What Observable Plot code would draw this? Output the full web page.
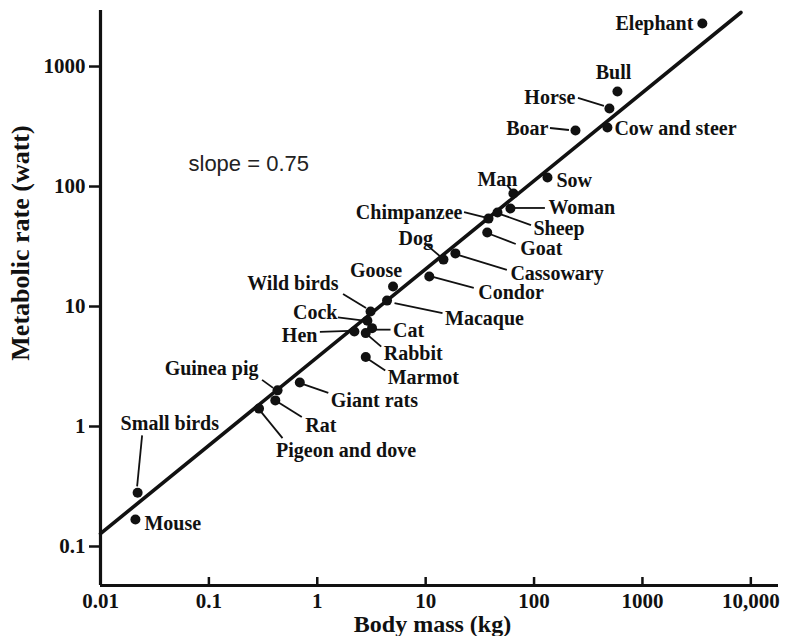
<!DOCTYPE html>
<html>
<head>
<meta charset="utf-8">
<script src="https://cdn.jsdelivr.net/npm/d3@7"></script>
<script src="https://cdn.jsdelivr.net/npm/@observablehq/plot@0.6"></script>
<style>
  html, body { margin: 0; padding: 0; background: #fff; }
  #chart svg { display: block; }
</style>
</head>
<body>
<div id="chart"></div>
<script>
// ---- data ----
const names = ["Mouse","Small birds","Pigeon and dove","Rat","Guinea pig","Giant rats","Hen","Cock","Wild birds","Cat","Rabbit","Marmot","Macaque","Goose","Condor","Dog","Cassowary","Goat","Chimpanzee","Sheep","Woman","Man","Sow","Boar","Cow and steer","Horse","Bull","Elephant"];
const massKg = [0.021,0.022,0.29,0.41,0.43,0.69,2.2,2.9,3.1,3.2,2.8,2.8,4.4,5.0,10.8,14.6,18.8,37,38,46,60.5,64.5,133,241,475,496,588,3570];
const rateW = [0.168,0.28,1.41,1.65,2.0,2.33,6.2,7.6,9.1,6.6,6.0,3.8,11.2,14.7,17.8,24.6,27.7,41.4,54,60.7,65.6,87.5,119,293,310,447,619,2282];

const fitMass = [0.01, 8100];
const fitRate = [0.128, 2820];

const xTicks = [0.01, 0.1, 1, 10, 100, 1000, 10000];
const xTickLabels = ["0.01","0.1","1","10","100","1000","10,000"];
const yTicks = [0.1, 1, 10, 100, 1000];
const yTickLabels = ["0.1","1","10","100","1000"];

// ---- label layout (pixel offsets from each dot) ----
const layout = {
  "Elephant":      {dx:-9,  dy:0,   a:"end"},
  "Bull":          {dx:-4,  dy:-19, a:"middle"},
  "Horse":         {dx:-34, dy:-11, a:"end",   l:[-5,-2,-31,-10]},
  "Cow and steer": {dx:7,   dy:1,   a:"start"},
  "Boar":          {dx:-27, dy:-2,  a:"end",   l:[-6,0,-25,-2]},
  "Sow":           {dx:9,   dy:3,   a:"start"},
  "Man":           {dx:-16, dy:-14, a:"middle",l:[-1,-2,-6,-8]},
  "Woman":         {dx:38,  dy:-1,  a:"start", l:[5,0,35,0]},
  "Chimpanzee":    {dx:-26, dy:-6,  a:"end",   l:[-4,-1,-24,-6]},
  "Sheep":         {dx:36,  dy:16,  a:"start", l:[3,2,34,13]},
  "Goat":          {dx:33,  dy:16,  a:"start", l:[3,2,29,12]},
  "Dog":           {dx:-45, dy:-21, a:"start", l:[-16,-14,-2,-2]},
  "Cassowary":     {dx:55,  dy:20,  a:"start", l:[3,2,52,17]},
  "Condor":        {dx:49,  dy:16,  a:"start", l:[4,1,45,12]},
  "Goose":         {dx:-17, dy:-16, a:"middle"},
  "Wild birds":    {dx:-32, dy:-28, a:"end",   l:[-27,-17,-4,-3]},
  "Cock":          {dx:-30, dy:-8,  a:"end",   l:[-29,-3,-5,0]},
  "Hen":           {dx:-37, dy:4,   a:"end",   l:[-34,1,-4,0]},
  "Cat":           {dx:21,  dy:2,   a:"start", l:[3,2,19,2]},
  "Rabbit":        {dx:18,  dy:20,  a:"start", l:[2,2,16,14]},
  "Marmot":        {dx:22,  dy:21,  a:"start", l:[2,2,20,14]},
  "Macaque":       {dx:58,  dy:18,  a:"start", l:[8,3,56,13]},
  "Giant rats":    {dx:31,  dy:18,  a:"start", l:[3,2,29,11]},
  "Guinea pig":    {dx:-19, dy:-22, a:"end",   l:[-4,-2,-15,-10]},
  "Rat":           {dx:30,  dy:25,  a:"start", l:[3,2,27,17]},
  "Pigeon and dove":{dx:17, dy:42,  a:"start", l:[2,3,24,30]},
  "Small birds":   {dx:-17, dy:-69, a:"start", l:[0,-6,5,-57]},
  "Mouse":         {dx:9,   dy:4,   a:"start"}
};

const animals = names.map((n, i) => ({name: n, mass: massKg[i], rate: rateW[i]}));
const fit = fitMass.map((m, i) => ({mass: m, rate: fitRate[i]}));
const xLabelOf = new Map(xTicks.map((t, i) => [t, xTickLabels[i]]));
const yLabelOf = new Map(yTicks.map((t, i) => [t, yTickLabels[i]]));

const xDomain = [0.01, 18000];
const yDomain = [0.0473, 2930];
const serif = "'Liberation Serif', 'Times New Roman', serif";

function leaders(index, scales) {
  const g = d3.create("svg:g").attr("stroke", "#111").attr("stroke-width", 1.8).attr("fill", "none");
  for (const d of animals) {
    const L = layout[d.name];
    if (!L || !L.l) continue;
    const px = scales.x(d.mass), py = scales.y(d.rate);
    g.append("line")
      .attr("x1", px + L.l[0]).attr("y1", py + L.l[1])
      .attr("x2", px + L.l[2]).attr("y2", py + L.l[3]);
  }
  return g.node();
}

const labelMarks = animals.map(d => {
  const L = layout[d.name];
  return Plot.text([d], {
    x: "mass", y: "rate", text: "name",
    dx: L.dx, dy: L.dy, textAnchor: L.a,
    fontSize: 20, fontWeight: "bold", fill: "#111", fontFamily: serif
  });
});

const chart = Plot.plot({
  width: 785,
  height: 636,
  marginLeft: 100,
  marginRight: 7,
  marginTop: 10,
  marginBottom: 51,
  style: {fontFamily: serif, background: "#fff", color: "#111"},
  x: {type: "log", domain: xDomain},
  y: {type: "log", domain: yDomain},
  marks: [
    // axis tick marks
    Plot.axisX(xTicks, {anchor: "bottom", tickSize: 8, dy: -8, text: null, strokeWidth: 2.5, label: null}),
    Plot.axisX(xTicks, {anchor: "bottom", tickSize: 0, tickPadding: 8, tickFormat: d => xLabelOf.get(d), fontSize: 21, fontWeight: "bold", label: null}),
    Plot.axisY(yTicks, {anchor: "left", tickSize: 11, tickPadding: 4, tickFormat: d => yLabelOf.get(d), fontSize: 21, fontWeight: "bold", strokeWidth: 2.5, label: null}),
    Plot.ruleX([xDomain[0]], {strokeWidth: 3.2, stroke: "#111"}),
    Plot.ruleY([yDomain[0]], {strokeWidth: 3.2, stroke: "#111"}),
    Plot.line(fit, {x: "mass", y: "rate", stroke: "#111", strokeWidth: 3.6}),
    leaders,
    Plot.dot(animals, {x: "mass", y: "rate", r: 5, fill: "#111"}),
    ...labelMarks,
    Plot.text(["slope = 0.75"], {frameAnchor: "top-left", dx: 88, dy: 153, textAnchor: "start", lineAnchor: "middle", fontSize: 22, fontFamily: "'Liberation Sans', Arial, sans-serif", fill: "#222"}),
    Plot.text(["Body mass (kg)"], {frameAnchor: "bottom", dx: -7, dy: 39, textAnchor: "middle", lineAnchor: "middle", fontSize: 24, fontWeight: "bold", fontFamily: serif, fill: "#111"}),
    Plot.text(["Metabolic rate (watt)"], {frameAnchor: "left", dx: -80, dy: -55, rotate: -90, textAnchor: "middle", lineAnchor: "middle", fontSize: 26, fontWeight: "bold", fontFamily: serif, fill: "#111"})
  ]
});
document.getElementById("chart").append(chart);
</script>
</body>
</html>
